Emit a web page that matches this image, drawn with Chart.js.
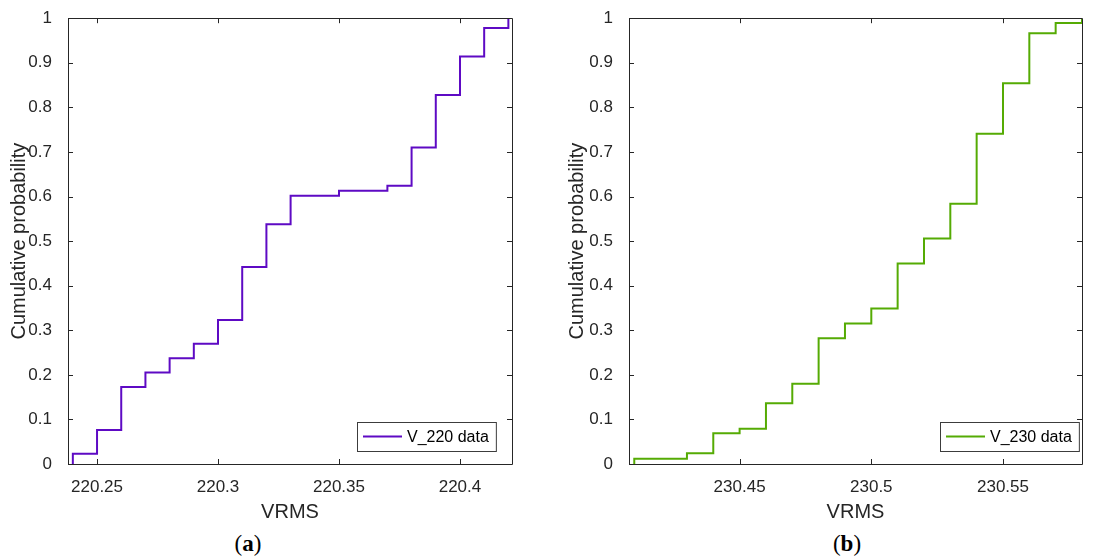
<!DOCTYPE html>
<html lang="en">
<head>
    <meta charset="UTF-8">
    <title>Empirical CDF of VRMS</title>
    <script src="https://cdn.jsdelivr.net/npm/chart.js@4.4.1/dist/chart.umd.min.js"></script>
    <style>
        body {
            margin: 0;
            background-color: #ffffff;
            font-family: 'Liberation Sans', Arial, sans-serif;
        }
        .figure {
            position: relative;
            width: 1099px;
            height: 558px;
            overflow: hidden;
        }
        .figure canvas {
            position: absolute;
            top: 0;
        }
        .caption {
            position: absolute;
            top: 531px;
            font-family: 'Liberation Serif', 'DejaVu Serif', serif;
            font-size: 23px;
            color: #000;
            transform: translateX(-50%);
        }
    </style>
</head>
<body>
    <div class="figure">
        <canvas id="cdf-220" width="545" height="530" style="left:0px"></canvas>
        <canvas id="cdf-230" width="541" height="530" style="left:558px"></canvas>
        <div class="caption" style="left:248px">(<b>a</b>)</div>
        <div class="caption" style="left:847px">(<b>b</b>)</div>
    </div>
    <script>
        // ECDF steps for the 220 V measurement
        const vrms220 = [220.24, 220.24, 220.25, 220.26, 220.27, 220.28, 220.29, 220.30, 220.31,
                         220.32, 220.33, 220.35, 220.37, 220.38, 220.39, 220.40, 220.41, 220.42];
        const cdf220 = [0, 0.023, 0.076, 0.173, 0.205, 0.237, 0.270, 0.323, 0.442,
                        0.538, 0.602, 0.613, 0.624, 0.710, 0.828, 0.914, 0.978, 1];

        // ECDF steps for the 230 V measurement
        const vrms230 = [230.41, 230.41, 230.43, 230.44, 230.45, 230.46, 230.47, 230.48, 230.49,
                         230.50, 230.51, 230.52, 230.53, 230.54, 230.55, 230.56, 230.57, 230.58];
        const cdf230 = [0, 0.012, 0.024, 0.069, 0.079, 0.136, 0.180, 0.282, 0.315,
                        0.349, 0.450, 0.506, 0.584, 0.741, 0.854, 0.966, 0.989, 1];

        const xTicks220 = [220.25, 220.3, 220.35, 220.4];
        const xTicks230 = [230.45, 230.5, 230.55];
        const yTicks = [0, 0.1, 0.2, 0.3, 0.4, 0.5, 0.6, 0.7, 0.8, 0.9, 1];

        const axisColor = '#262626';
        const fontFamily = '"Liberation Sans", Arial, sans-serif';

        // box around the plot area with inward ticks on all four sides
        const boxPlugin = {
            id: 'matlabBox',
            afterDraw(chart) {
                const ctx = chart.ctx;
                const area = chart.chartArea;
                const xs = chart.scales.x, ys = chart.scales.y;
                const len = 5;
                ctx.save();
                ctx.strokeStyle = axisColor;
                ctx.lineWidth = 1;
                ctx.beginPath();
                ctx.rect(Math.round(area.left) + 0.5, Math.round(area.top) + 0.5,
                         Math.round(area.right - area.left), Math.round(area.bottom - area.top));
                xs.ticks.forEach(t => {
                    const px = Math.round(xs.getPixelForValue(t.value)) + 0.5;
                    ctx.moveTo(px, area.bottom); ctx.lineTo(px, area.bottom - len);
                    ctx.moveTo(px, area.top); ctx.lineTo(px, area.top + len);
                });
                ys.ticks.forEach(t => {
                    const py = Math.round(ys.getPixelForValue(t.value)) + 0.5;
                    ctx.moveTo(area.left, py); ctx.lineTo(area.left + len, py);
                    ctx.moveTo(area.right, py); ctx.lineTo(area.right - len, py);
                });
                ctx.stroke();
                ctx.restore();
            }
        };

        // legend box in the lower right corner of the plot area
        const legendPlugin = {
            id: 'cornerLegend',
            afterDraw(chart, args, opts) {
                const ctx = chart.ctx;
                const area = chart.chartArea;
                const ds = chart.data.datasets[0];
                ctx.save();
                ctx.font = '16px ' + fontFamily;
                const textW = ctx.measureText(ds.label).width;
                const w = 6 + 39 + 5 + textW + 7;
                const h = 29;
                const x = Math.round(area.right - opts.right - w);
                const y = Math.round(area.bottom - opts.bottom - h);
                ctx.fillStyle = '#ffffff';
                ctx.fillRect(x, y, w, h);
                ctx.strokeStyle = '#3c3c3c';
                ctx.lineWidth = 1;
                ctx.strokeRect(x + 0.5, y + 0.5, w, h);
                ctx.strokeStyle = ds.borderColor;
                ctx.lineWidth = 2;
                ctx.beginPath();
                ctx.moveTo(x + 6, y + h / 2);
                ctx.lineTo(x + 45, y + h / 2);
                ctx.stroke();
                ctx.fillStyle = '#000000';
                ctx.textBaseline = 'middle';
                ctx.fillText(ds.label, x + 50, y + h / 2 + 1);
                ctx.restore();
            }
        };

        function makeCdfChart(id, xs, ys, label, color, xMin, xMax, xTicks, pad, yWidth, legendPos) {
            const points = xs.map((v, i) => ({ x: v, y: ys[i] }));
            return new Chart(document.getElementById(id), {
                type: 'scatter',
                data: {
                    datasets: [{
                        label: label,
                        data: points,
                        showLine: true,
                        stepped: 'before',
                        borderColor: color,
                        borderWidth: 2,
                        pointRadius: 0,
                        fill: false
                    }]
                },
                options: {
                    responsive: false,
                    animation: false,
                    layout: { padding: pad },
                    plugins: {
                        legend: { display: false },
                        tooltip: { enabled: false },
                        cornerLegend: legendPos
                    },
                    scales: {
                        x: {
                            type: 'linear',
                            min: xMin,
                            max: xMax,
                            grid: { display: false },
                            border: { display: false },
                            afterBuildTicks: s => { s.ticks = xTicks.map(v => ({ value: v })); },
                            afterFit: s => { s.height = 66; },
                            ticks: {
                                color: axisColor,
                                padding: 5,
                                maxRotation: 0,
                                font: { family: fontFamily, size: 17 },
                                callback: v => String(Number(v.toFixed(2)))
                            },
                            title: {
                                display: true,
                                text: 'VRMS',
                                color: axisColor,
                                padding: { top: 0, bottom: 6 },
                                font: { family: fontFamily, size: 20 }
                            }
                        },
                        y: {
                            min: 0,
                            max: 1,
                            grid: { display: false },
                            border: { display: false },
                            afterBuildTicks: s => { s.ticks = yTicks.map(v => ({ value: v })); },
                            afterFit: s => { s.width = yWidth; },
                            ticks: {
                                color: axisColor,
                                padding: 8,
                                font: { family: fontFamily, size: 17 },
                                callback: v => String(Number(v.toFixed(1)))
                            },
                            title: {
                                display: true,
                                text: 'Cumulative probability',
                                color: axisColor,
                                padding: { top: 7, bottom: 0 },
                                font: { family: fontFamily, size: 20 }
                            }
                        }
                    }
                },
                plugins: [boxPlugin, legendPlugin]
            });
        }

        makeCdfChart('cdf-220', vrms220, cdf220, 'V_220 data', '#5e0ac4',
                     220.238, 220.4215, xTicks220,
                     { left: 0, right: 33, top: 18, bottom: 0 }, 68,
                     { right: 16, bottom: 13 });

        makeCdfChart('cdf-230', vrms230, cdf230, 'V_230 data', '#55ab04',
                     230.408, 230.58, xTicks230,
                     { left: 0, right: 17, top: 18, bottom: 0 }, 71,
                     { right: 3, bottom: 13 });
    </script>
</body>
</html>
